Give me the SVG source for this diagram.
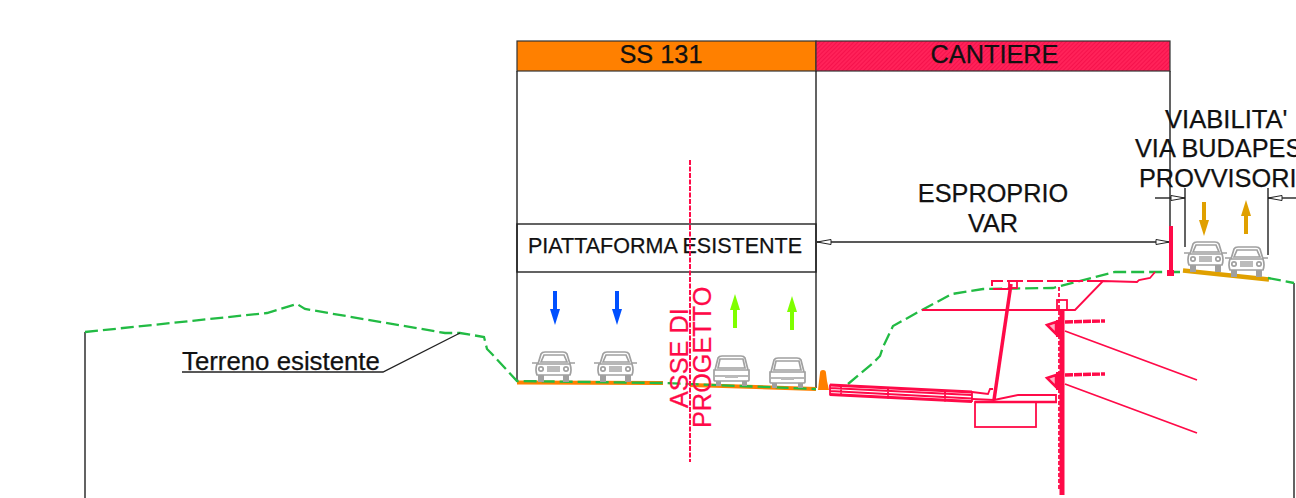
<svg xmlns="http://www.w3.org/2000/svg" width="1296" height="498" viewBox="0 0 1296 498">
<style>
text{font-family:"Liberation Sans",Arial,sans-serif;fill:#111;font-size:25.300px;stroke:#111;stroke-width:.25}
.k{fill:none;stroke:#222;stroke-width:1.4}
.g{fill:none;stroke:#22bb44;stroke-width:2.300;stroke-dasharray:13 5}
.r{fill:none;stroke:#ff0a48;stroke-width:1.800}
.rb{fill:none;stroke:#ff0a48;stroke-width:3.500}
.c{fill:none;stroke:#a0a0a0;stroke-width:1.700}
.o{fill:none;stroke:#ff8000;stroke-width:4}
</style>
<defs>
<pattern id="h" width="3" height="3" patternUnits="userSpaceOnUse" patternTransform="rotate(-45)"><rect width="3" height="3" fill="#ff2259"/><rect width="3" height="1" fill="#f5124c"/></pattern>
<marker id="ah" markerWidth="16" markerHeight="8" refX="15" refY="4" orient="auto-start-reverse" markerUnits="userSpaceOnUse"><path d="M1 1.500L15 4L1 6.500Z" fill="#fff" stroke="#222" stroke-width="1"/></marker>
<g id="front">
<path class="c" d="M5 13L8 3Q9 1 12 1H30Q33 1 34 3L37 13"/>
<path class="c" d="M8 11L11 4H31L34 11Z"/>
<path class="c" d="M-1 12H5M37 12H42"/>
<path class="c" d="M4 13Q2 19 4 24H37Q39 19 37 13Z"/>
<rect x="14" y="15" width="13" height="6" fill="#bbb"/>
<circle cx="8" cy="18" r="2.200" class="c"/><circle cx="33" cy="18" r="2.200" class="c"/>
<rect x="5" y="24" width="6" height="7" fill="#a0a0a0"/><rect x="30" y="24" width="6" height="7" fill="#a0a0a0"/>
</g>
<g id="rear">
<path class="c" d="M2 15L5 3Q6 1 9 1H28Q31 1 32 3L35 15"/>
<path class="c" d="M5 13L7 4H30L32 13Z"/>
<path class="c" d="M1 15H36V25Q36 26 34 26H3Q1 26 1 25Z"/>
<path class="c" d="M2 21H35"/>
<rect x="12" y="20" width="13" height="3" fill="#bbb"/>
<rect x="3" y="26" width="5" height="5" fill="#a0a0a0"/><rect x="29" y="26" width="5" height="5" fill="#a0a0a0"/>
</g>
<path id="arr" d="M-2 -17H2V1H5L0 17L-5 1H-2Z"/>
</defs>

<g id="header-ss131"><rect x="517" y="41" width="299" height="30" fill="#ff8000" stroke="#333" stroke-width="1.200"/><text x="661" y="63" text-anchor="middle">SS 131</text></g>
<g id="header-cantiere"><rect x="816" y="41" width="354" height="30" fill="url(#h)" stroke="#333" stroke-width="1.200"/><text x="994.500" y="63" text-anchor="middle">CANTIERE</text></g>
<g id="piattaforma"><rect x="517" y="224" width="299" height="48" fill="none" stroke="#222" stroke-width="1.400"/><text x="665" y="253" text-anchor="middle" style="font-size:21.500px">PIATTAFORMA ESISTENTE</text></g>

<g id="frame">
<path class="k" d="M517 71V382M816 71V388M1170 71V272M85 332V498M1294 283V498"/>
</g>

<g id="road">
<path class="o" d="M517 382.500L663 383M690 385L816 389"/>
<path d="M818 390L819 381L820 373Q820 370 823 370Q826 370 826 373L827 381L829 390Z" fill="#ff8000"/>
<path d="M1183 270.500L1269 279.500" fill="none" stroke="#e0a000" stroke-width="4.500"/>
</g>

<g id="terrain">
<path class="g" d="M85 332L267 313L297 304L305 309L445 333H460L484 337L487 349L491 353L517 381L663 383L816 389"/>
<path class="g" d="M848 384L873 363L880 356L883 347L893 326L922 310L952 294L983 289L1053 288L1115 272H1180"/>
<path class="g" d="M1268 278L1294 283"/>
</g>

<g id="terreno-label"><text x="182" y="370" style="font-size:25.800px">Terreno esistente</text><path class="k" d="M182 372H383L460 333"/></g>

<g id="traffic-arrows">
<use href="#arr" x="555" y="308" fill="#0050ff"/><use href="#arr" x="617" y="308" fill="#0050ff"/>
<use href="#arr" transform="translate(735 311) rotate(180)" fill="#7fff00"/><use href="#arr" transform="translate(792 313) rotate(180)" fill="#7fff00"/>
<use href="#arr" x="1204" y="219" fill="#e0a000"/><use href="#arr" transform="translate(1246 217) rotate(180)" fill="#e0a000"/>
</g>

<g id="cars">
<use href="#front" x="533" y="351"/><use href="#front" x="595" y="351"/>
<use href="#rear" x="713" y="355"/><use href="#rear" x="769" y="357"/>
<use href="#front" x="1185" y="241"/><use href="#front" x="1226" y="246"/>
</g>

<g id="asse">
<path d="M690 160V462" fill="none" stroke="#ff0a48" stroke-width="2" stroke-dasharray="5 1.500"/>
<text transform="translate(688 408) rotate(-90)" style="fill:#ff0a48;stroke:#ff0a48">ASSE DI</text>
<text transform="translate(711 428) rotate(-90)" style="fill:#ff0a48;stroke:#ff0a48">PROGETTO</text>
</g>

<g id="connectors">
<path class="k" d="M817 242H1170" marker-start="url(#ah)" marker-end="url(#ah)"/>
<path class="k" d="M1155 198H1185" marker-end="url(#ah)"/>
<path class="k" d="M1296 198H1268" marker-end="url(#ah)"/>
<path class="k" d="M1185 188V247M1268 188V255"/>
</g>
<g id="esproprio"><text x="993" y="202" text-anchor="middle">ESPROPRIO</text><text x="993" y="232" text-anchor="middle">VAR</text></g>
<g id="viabilita"><text x="1165" y="128" style="font-size:25.600px">VIABILITA'</text><text x="1135" y="157">VIA BUDAPES</text><text x="1139" y="187">PROVVISORI</text></g>

<g id="cantiere-works">
<path class="rb" style="stroke-width:4" d="M1171 226V270"/><rect x="1167" y="270" width="7" height="6" fill="#ff0a48"/>
<path class="r" d="M922 310H1075L1103 281L1137 282L1139 280L1150 278L1155 272"/>
<path class="r" style="stroke-width:2" stroke-dasharray="16 4" d="M1103 281H992V289H1010"/>
<rect x="1009" y="281" width="8" height="7" class="r"/>
<path class="rb" d="M1011 284L994 400"/>
<path d="M1062 310V495" fill="none" stroke="#ff0a48" stroke-width="5"/>
<path class="r" stroke-dasharray="4 2" d="M1059 287V490"/>
<rect x="1057" y="300" width="10" height="10" class="r"/>
<path class="r" style="stroke-width:3" d="M830 385L972 392M830 394.500L972 401.500"/>
<path class="r" d="M830 388L972 395M830 391L972 398.500M830 384.500V395.500M841 385V396M888 387.500V398.500M945 390.500V401.500M972 391V402"/>
<path class="r" d="M972 392L988 394L990 389H993M972 399L994 400L1018 395H1056V402"/>
<path class="rb" style="stroke-width:2.500" d="M975 402H1057"/>
<rect x="975" y="402" width="61" height="25" class="r"/>
<path d="M1047 325L1056 322V334Z" class="r" style="fill:#ffb0c4;stroke-width:2.500"/>
<rect x="1056" y="320" width="4" height="17" fill="#ff0a48"/>
<path d="M1047 378L1056 375V387Z" class="r" style="fill:#ffb0c4;stroke-width:2.500"/>
<rect x="1056" y="372" width="4" height="18" fill="#ff0a48"/>
<path class="rb" style="stroke-dasharray:8 1" d="M1065 322L1105 321M1065 375L1105 374"/>
<path class="r" d="M1065 331L1197 380M1065 384L1197 433"/>
</g>
</svg>
